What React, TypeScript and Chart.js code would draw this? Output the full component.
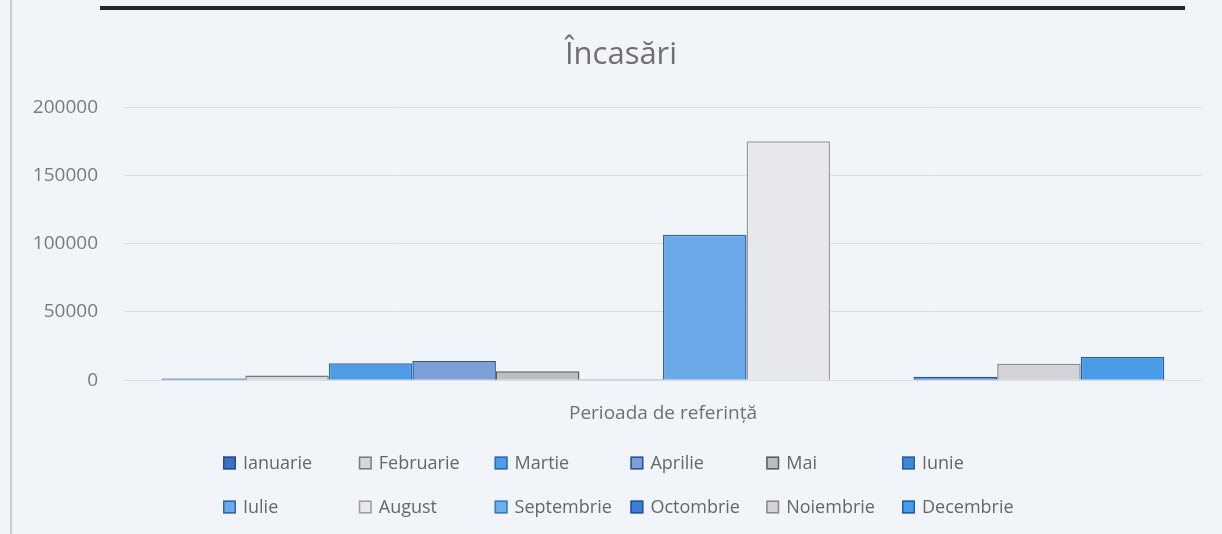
import React, { useEffect, useRef } from "react";
import { Chart, registerables } from "chart.js";

Chart.register(...registerables);

// ---- data ----
const chartTitle = "Încasări";
const xAxisTitle = "Perioada de referință";
const categories = [""];
const months = [
  "Ianuarie", "Februarie", "Martie", "Aprilie", "Mai", "Iunie",
  "Iulie", "August", "Septembrie", "Octombrie", "Noiembrie", "Decembrie",
];
const values = [1200, 3500, 12500, 14000, 6600, 700, 106500, 175000, 0, 2500, 12000, 17000];
const fills = [
  "#3d72c0", "#d6d7da", "#4f9be4", "#7c9fd8", "#bdbdbf", "#3f86d6",
  "#6aaae8", "#e7e8eb", "#6cb0ec", "#3c7fd4", "#d2d3d6", "#4a9be8",
];
const borders = [
  "#1f4f8f", "#7a7a7a", "#2c6db6", "#2f5591", "#5c5c5c", "#2a5fa0",
  "#2e68a8", "#9c9c9c", "#3a7cc0", "#23569a", "#8a8a8a", "#1f5ea8",
];
const yMin = 0;
const yMax = 200000;
const yStep = 50000;

const FONT = "'Open Sans', 'Noto Sans', sans-serif";
const TEXT = "#707070";

const gridLegend = {
  id: "gridLegend",
  afterDraw(chart: any) {
    const ctx = chart.ctx as CanvasRenderingContext2D;
    const x0 = 223;
    const dx = 135.8;
    const y0 = 463;
    const dy = 44;
    const box = 13;
    ctx.save();
    ctx.font = `18px ${FONT}`;
    ctx.textBaseline = "middle";
    ctx.textAlign = "left";
    chart.data.datasets.forEach((ds: any, i: number) => {
      const col = i % 6;
      const row = Math.floor(i / 6);
      const x = x0 + col * dx;
      const y = y0 + row * dy;
      ctx.fillStyle = ds.backgroundColor;
      ctx.fillRect(x, y - box / 2, box, box);
      ctx.strokeStyle = ds.borderColor;
      ctx.lineWidth = 1.5;
      ctx.strokeRect(x + 0.75, y - box / 2 + 0.75, box - 1.5, box - 1.5);
      ctx.fillStyle = "#666666";
      ctx.fillText(ds.label, x + 20, y + 1);
    });
    ctx.restore();
  },
};

// draws the chart title centred where the reference has it (the built-in title only reserves the space)
const shiftedTitle = {
  id: "shiftedTitle",
  afterDraw(chart: any) {
    const tb = chart.titleBlock;
    if (!tb) return;
    const ctx = chart.ctx as CanvasRenderingContext2D;
    ctx.save();
    ctx.font = `31px ${FONT}`;
    ctx.fillStyle = TEXT;
    ctx.textAlign = "center";
    ctx.textBaseline = "middle";
    const y = tb.top + 37 + (31 * 1.2) / 2;
    ctx.fillText(chartTitle, 621, y);
    ctx.restore();
  },
};

export default function App() {
  const ref = useRef<HTMLCanvasElement | null>(null);

  useEffect(() => {
    if (!ref.current) return;
    const chart = new Chart(ref.current, {
      type: "bar",
      data: {
        labels: categories,
        datasets: months.map((m, i) => ({
          label: m,
          data: [values[i]],
          backgroundColor: fills[i],
          borderColor: borders[i],
          borderWidth: 1.5,
          categoryPercentage: 0.93,
          barPercentage: 1,
        })),
      },
      options: {
        animation: false,
        responsive: false,
        layout: { padding: { left: 0, right: 20, top: 0, bottom: 105 } },
        plugins: {
          legend: { display: false },
          tooltip: { enabled: false },
          title: {
            display: true,
            text: chartTitle,
            color: "rgba(0,0,0,0)",
            font: { family: FONT, size: 31, weight: "normal" as any },
            padding: { top: 37, bottom: 33 },
          },
        },
        scales: {
          x: {
            grid: { display: false, drawTicks: false },
            border: { display: false },
            ticks: { display: false },
            title: {
              display: true,
              text: xAxisTitle,
              color: TEXT,
              font: { family: FONT, size: 19 },
              padding: { top: 22, bottom: 4 },
            },
          },
          y: {
            min: yMin,
            max: yMax,
            ticks: {
              stepSize: yStep,
              color: "#7a7a7a",
              font: { family: FONT, size: 19 },
              padding: 26,
              callback: (v: any) => String(v),
            },
            grid: { color: "#d8dbe0", lineWidth: 1, drawTicks: false },
            border: { display: false },
            afterFit: (s: any) => {
              s.width = 124;
            },
          },
        },
      },
      plugins: [gridLegend, shiftedTitle],
    });
    return () => chart.destroy();
  }, []);

  return (
    <div
      style={{
        position: "fixed",
        left: 0,
        top: 0,
        width: 1222,
        height: 534,
        background: "#f1f5f9",
        overflow: "hidden",
      }}
    >
      <canvas ref={ref} width={1222} height={534} style={{ display: "block" }} />
      <div style={{ position: "absolute", left: 100, top: 6, width: 1085, height: 4, background: "#262626" }} />
      <div style={{ position: "absolute", left: 10, top: 0, width: 2, height: 534, background: "#c9ccd0" }} />
    </div>
  );
}
